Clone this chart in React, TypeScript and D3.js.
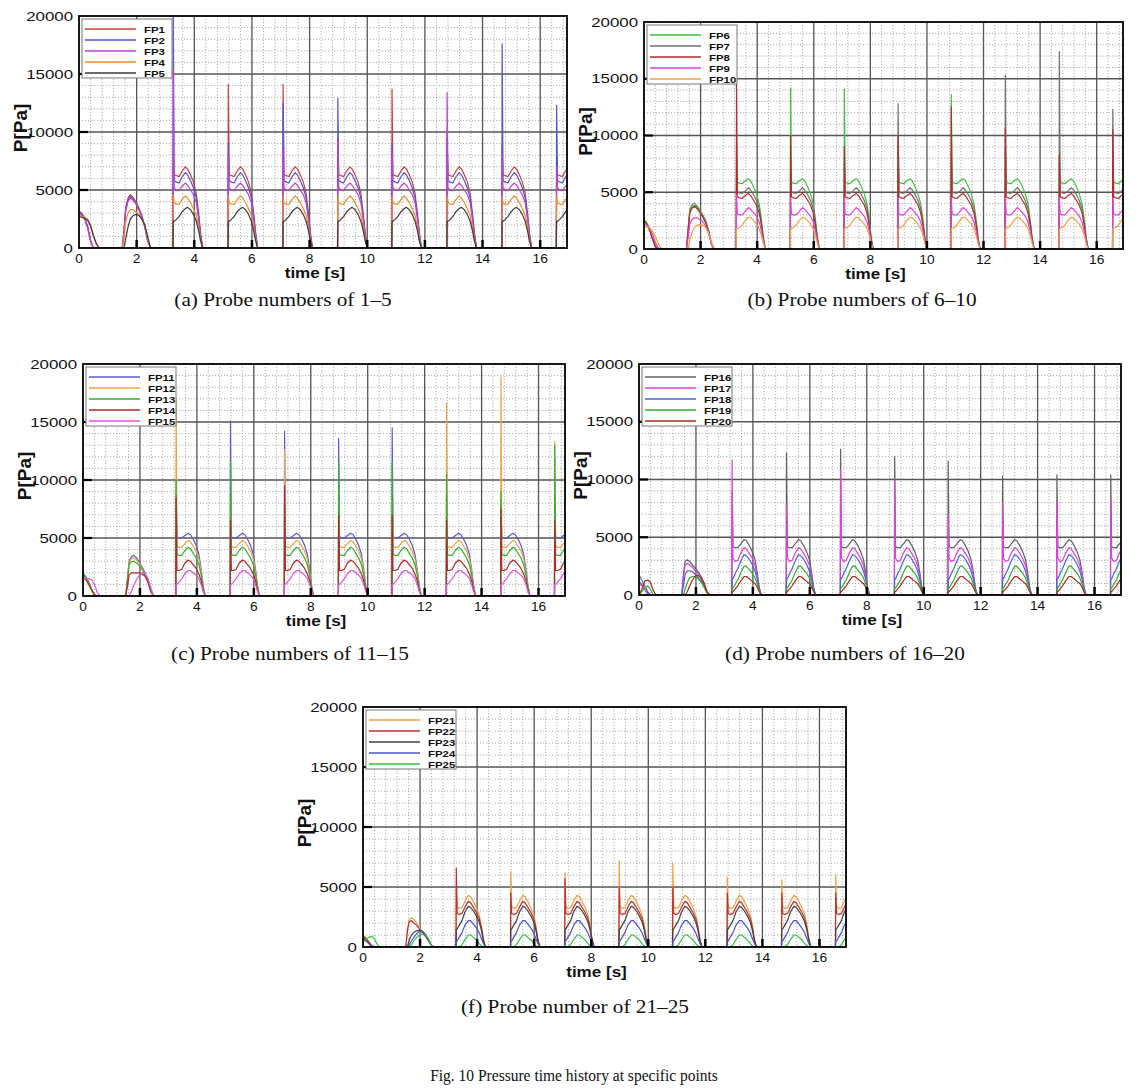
import React from "react";
import * as d3 from "d3";

// ---------- shared time bases (s) ----------
const INIT_T = [0, 0.1, 0.2, 0.3, 0.4, 0.5, 0.6, 0.7];
const FIRST_T = [1.5, 1.56, 1.62, 1.7, 1.78, 1.88, 1.98, 2.08, 2.18, 2.28, 2.38, 2.48];
const PULSE_T = [3.27, 5.18, 7.08, 8.98, 10.86, 12.77, 14.68, 16.57];
const PULSE_DT = [0.03, 0.1, 0.2, 0.3, 0.42, 0.5, 0.6, 0.7, 0.8, 0.88, 0.95, 1.02];

const X_TICKS = [0, 2, 4, 6, 8, 10, 12, 14, 16];
const Y_TICKS = [0, 5000, 10000, 15000, 20000];
const X_MAX = 16.93;
const Y_MAX = 20000;

// ---------- probe series (Pa) ----------
const FP1 = { name: "FP1", init: [3200, 3000, 2600, 1900, 700, 0, 0, 0], first: [0, 1500, 3500, 4300, 4600, 4350, 3950, 3450, 2800, 1900, 700, 0], pulse: [6300, 6250, 6150, 6600, 7000, 6800, 6300, 5700, 4700, 3000, 1300, 0], spikes: [8200, 14100, 14100, 9000, 13700, 9500, 9000, 8000] };
const FP2 = { name: "FP2", init: [3100, 2900, 2500, 1800, 600, 0, 0, 0], first: [0, 1400, 3300, 4100, 4450, 4200, 3800, 3300, 2700, 1800, 600, 0], pulse: [5800, 5700, 5600, 6100, 6500, 6300, 5800, 5200, 4300, 2700, 1100, 0], spikes: [21000, 9000, 12500, 12900, 9000, 10000, 17600, 12300] };
const FP3 = { name: "FP3", init: [3000, 2800, 2500, 1700, 600, 0, 0, 0], first: [0, 1300, 3200, 4000, 4300, 4100, 3800, 3300, 2700, 1900, 700, 0], pulse: [5200, 5000, 4950, 5300, 5600, 5400, 5000, 4600, 3900, 2500, 1000, 0], spikes: [15500, 8000, 8500, 9500, 8500, 13400, 8000, 7000] };
const FP4 = { name: "FP4", init: [2800, 2750, 2650, 2500, 2000, 1000, 300, 0], first: [0, 800, 2300, 3000, 3300, 3300, 3100, 2900, 2500, 1900, 800, 0], pulse: [3900, 3800, 3750, 4150, 4500, 4300, 3900, 3400, 2800, 1800, 700, 0], spikes: [4600, 4500, 4500, 4500, 4500, 4500, 4500, 4500] };
const FP5 = { name: "FP5", init: [2700, 2650, 2550, 2400, 1900, 1100, 400, 0], first: [0, 0, 800, 1800, 2500, 2800, 2900, 2800, 2500, 2000, 1000, 0], pulse: [2300, 2450, 2700, 3100, 3400, 3500, 3300, 2900, 2300, 1500, 600, 0], spikes: [0, 0, 0, 0, 0, 0, 0, 0] };

const FP6 = { name: "FP6", init: [2600, 2300, 1800, 1000, 300, 0, 0, 0], first: [0, 1800, 3500, 3900, 4050, 3800, 3400, 3000, 2500, 1700, 500, 0], pulse: [5900, 5800, 5750, 6000, 6200, 6000, 5500, 4900, 4000, 2600, 1000, 0], spikes: [7000, 14200, 14100, 9000, 13600, 9000, 8000, 6500] };
const FP7 = { name: "FP7", init: [2500, 2200, 1700, 900, 200, 0, 0, 0], first: [0, 1700, 3300, 3700, 3850, 3650, 3300, 2900, 2400, 1600, 500, 0], pulse: [5000, 4950, 4900, 5100, 5400, 5200, 4800, 4300, 3600, 2300, 900, 0], spikes: [9000, 7000, 7500, 12800, 8500, 15300, 17400, 12300] };
const FP8 = { name: "FP8", init: [2500, 2200, 1600, 900, 200, 0, 0, 0], first: [0, 1600, 3200, 3600, 3750, 3550, 3200, 2800, 2300, 1500, 400, 0], pulse: [4600, 4500, 4450, 4700, 4900, 4700, 4300, 3900, 3200, 2100, 800, 0], spikes: [14800, 10000, 9000, 10000, 12500, 10600, 8300, 10500] };
const FP9 = { name: "FP9", init: [2200, 2100, 1800, 1300, 600, 100, 0, 0], first: [0, 1000, 2200, 2600, 2750, 2750, 2600, 2400, 2000, 1400, 500, 0], pulse: [3100, 3000, 3000, 3300, 3650, 3500, 3200, 2900, 2400, 1600, 600, 0], spikes: [4800, 4500, 4500, 4500, 4500, 4500, 4500, 4500] };
const FP10 = { name: "FP10", init: [2000, 1950, 1850, 1600, 1100, 500, 100, 0], first: [0, 0, 800, 1500, 1900, 2100, 2150, 2100, 1900, 1400, 600, 0], pulse: [1800, 1900, 2100, 2500, 2800, 2750, 2500, 2200, 1800, 1200, 500, 0], spikes: [0, 0, 0, 0, 0, 0, 0, 0] };

const FP11 = { name: "FP11", init: [1800, 1600, 1200, 600, 100, 0, 0, 0], first: [0, 1500, 3000, 3400, 3500, 3300, 2900, 2500, 2000, 1400, 400, 0], pulse: [5100, 5000, 5000, 5200, 5400, 5300, 4900, 4400, 3600, 2300, 900, 0], spikes: [9000, 15100, 14200, 13600, 14500, 9000, 8000, 8000] };
const FP12 = { name: "FP12", init: [1700, 1500, 1100, 500, 100, 0, 0, 0], first: [0, 1400, 2900, 3200, 3300, 3100, 2800, 2400, 1900, 1300, 400, 0], pulse: [4300, 4200, 4200, 4500, 4800, 4700, 4300, 3900, 3200, 2100, 800, 0], spikes: [17000, 9500, 12600, 9000, 9000, 16700, 18900, 13300] };
const FP13 = { name: "FP13", init: [2000, 1700, 1200, 600, 100, 0, 0, 0], first: [0, 1300, 2700, 2950, 3000, 2850, 2600, 2300, 1800, 1200, 400, 0], pulse: [3600, 3500, 3500, 3900, 4200, 4100, 3700, 3300, 2700, 1800, 700, 0], spikes: [10000, 11700, 8000, 11500, 11500, 10500, 9000, 13000] };
const FP14 = { name: "FP14", init: [1600, 1400, 1000, 500, 100, 0, 0, 0], first: [0, 800, 1800, 2000, 2000, 2000, 2000, 1900, 1700, 1200, 500, 0], pulse: [2200, 2200, 2300, 2800, 3100, 3000, 2700, 2400, 1900, 1300, 500, 0], spikes: [8500, 6500, 9500, 7000, 7000, 6500, 7500, 6500] };
const FP15 = { name: "FP15", init: [1500, 1500, 1500, 1400, 1000, 300, 0, 0], first: [0, 0, 0, 400, 900, 1400, 1800, 2000, 1900, 1500, 700, 0], pulse: [1000, 1200, 1500, 1900, 2200, 2200, 2000, 1800, 1500, 1000, 400, 0], spikes: [0, 0, 0, 0, 0, 0, 0, 0] };

const FP16 = { name: "FP16", init: [1200, 900, 500, 100, 0, 0, 0, 0], first: [0, 1800, 2900, 3050, 2900, 2600, 2300, 2000, 1600, 1100, 300, 0], pulse: [4200, 4100, 4100, 4400, 4800, 4700, 4300, 3800, 3100, 2000, 700, 0], spikes: [9000, 12300, 12600, 12000, 11600, 10300, 10400, 10400] };
const FP17 = { name: "FP17", init: [1000, 800, 500, 200, 0, 0, 0, 0], first: [0, 1500, 2600, 2750, 2600, 2400, 2100, 1800, 1400, 900, 300, 0], pulse: [3200, 2900, 3000, 3600, 4100, 4000, 3600, 3200, 2600, 1700, 600, 0], spikes: [11700, 7800, 10800, 10000, 7000, 8000, 8000, 8300] };
const FP18 = { name: "FP18", init: [1700, 1300, 800, 300, 0, 0, 0, 0], first: [0, 800, 1800, 2100, 2100, 2000, 1800, 1500, 1200, 800, 300, 0], pulse: [1400, 1800, 2300, 2900, 3500, 3400, 3100, 2700, 2100, 1400, 600, 0], spikes: [0, 0, 0, 0, 0, 0, 0, 0] };
const FP19 = { name: "FP19", init: [0, 300, 600, 800, 500, 0, 0, 0], first: [0, 0, 500, 1100, 1500, 1600, 1550, 1400, 1100, 700, 200, 0], pulse: [600, 900, 1300, 1900, 2500, 2500, 2200, 1900, 1500, 1000, 400, 0], spikes: [0, 0, 0, 0, 0, 0, 0, 0] };
const FP20 = { name: "FP20", init: [0, 500, 1200, 1300, 1100, 400, 0, 0], first: [0, 0, 0, 300, 800, 1300, 1650, 1700, 1500, 1000, 300, 0], pulse: [300, 500, 800, 1200, 1600, 1600, 1400, 1200, 1000, 700, 300, 0], spikes: [0, 0, 0, 0, 0, 0, 0, 0] };

const FP21 = { name: "FP21", init: [1000, 800, 500, 200, 0, 0, 0, 0], first: [0, 1500, 2300, 2450, 2300, 2000, 1600, 1300, 1000, 700, 200, 0], pulse: [3400, 3200, 3300, 3800, 4300, 4200, 3800, 3300, 2700, 1800, 700, 0], spikes: [5000, 6300, 6200, 7200, 7000, 5800, 5600, 6000] };
const FP22 = { name: "FP22", init: [900, 700, 400, 100, 0, 0, 0, 0], first: [0, 1400, 2100, 2200, 2000, 1800, 1500, 1200, 900, 600, 200, 0], pulse: [2800, 2700, 2800, 3300, 3800, 3700, 3300, 2900, 2400, 1600, 600, 0], spikes: [6600, 4500, 5700, 5000, 5000, 4500, 4500, 4500] };
const FP23 = { name: "FP23", init: [800, 600, 300, 0, 0, 0, 0, 0], first: [0, 0, 600, 1000, 1200, 1350, 1400, 1300, 1000, 600, 200, 0], pulse: [1500, 1800, 2200, 2900, 3400, 3300, 3000, 2600, 2100, 1400, 500, 0], spikes: [0, 0, 0, 0, 0, 0, 0, 0] };
const FP24 = { name: "FP24", init: [700, 500, 300, 100, 0, 0, 0, 0], first: [0, 0, 200, 500, 800, 1100, 1300, 1300, 1100, 700, 200, 0], pulse: [500, 800, 1200, 1800, 2200, 2200, 1900, 1600, 1200, 700, 300, 0], spikes: [0, 0, 0, 0, 0, 0, 0, 0] };
const FP25 = { name: "FP25", init: [400, 600, 800, 900, 700, 200, 0, 0], first: [0, 0, 0, 200, 500, 800, 1000, 1100, 1000, 700, 200, 0], pulse: [0, 0, 200, 600, 1000, 1000, 800, 600, 300, 100, 0, 0], spikes: [0, 0, 0, 0, 0, 0, 0, 0] };

const GROUP_A = [FP1, FP2, FP3, FP4, FP5];
const GROUP_B = [FP6, FP7, FP8, FP9, FP10];
const GROUP_C = [FP11, FP12, FP13, FP14, FP15];
const GROUP_D = [FP16, FP17, FP18, FP19, FP20];
const GROUP_F = [FP21, FP22, FP23, FP24, FP25];

// ---------- styles ----------
const COLORS_A = ["#c8403c", "#5252d6", "#c040d0", "#f08a24", "#3a3a3a"];
const COLORS_B = ["#3cc03c", "#707070", "#b82a2a", "#e040e0", "#f0a040"];
const COLORS_C = ["#5a5ad8", "#f0a040", "#30b030", "#b02828", "#e050e0"];
const COLORS_D = ["#606060", "#e040e0", "#4a62e0", "#30b030", "#a82a18"];
const COLORS_F = ["#f0a040", "#c03030", "#404040", "#4a52d0", "#30c040"];

const PANELS = [
  { id: "a", group: GROUP_A, colors: COLORS_A, left: 79, right: 567, top: 16, bottom: 248, caption: "(a) Probe numbers of 1\u20135", cx: 283, cy: 305 },
  { id: "b", group: GROUP_B, colors: COLORS_B, left: 644, right: 1123, top: 22, bottom: 249, caption: "(b) Probe numbers of 6\u201310", cx: 862, cy: 305 },
  { id: "c", group: GROUP_C, colors: COLORS_C, left: 83, right: 565, top: 364, bottom: 596, caption: "(c) Probe numbers of 11\u201315", cx: 290, cy: 659 },
  { id: "d", group: GROUP_D, colors: COLORS_D, left: 639, right: 1121, top: 364, bottom: 595, caption: "(d) Probe numbers of 16\u201320", cx: 845, cy: 659 },
  { id: "f", group: GROUP_F, colors: COLORS_F, left: 363, right: 846, top: 707, bottom: 947, caption: "(f) Probe number of 21\u201325", cx: 575, cy: 1012 },
];

const SANS = "'Liberation Sans', Arial, Helvetica, sans-serif";
const SERIF = "'Liberation Serif', 'Times New Roman', serif";

type Series = { name: string; init: number[]; first: number[]; pulse: number[]; spikes: number[] };

function buildPoints(s: Series): [number, number][] {
  const pts: [number, number][] = [];
  INIT_T.forEach((t, i) => pts.push([t, s.init[i]]));
  FIRST_T.forEach((t, i) => pts.push([t, s.first[i]]));
  PULSE_T.forEach((t0, k) => {
    pts.push([t0 - 0.01, 0]);
    pts.push([t0, Math.max(s.spikes[k], s.pulse[0])]);
    PULSE_DT.forEach((dt, j) => pts.push([t0 + dt, s.pulse[j]]));
  });
  pts.push([X_MAX + 1, 0]);
  return pts;
}

function SText({ x, y, sx = 1, anchor = "start", size, weight = "normal", family = SANS, children }: any) {
  return (
    <text
      transform={`translate(${x},${y}) scale(${sx},1)`}
      textAnchor={anchor}
      fontSize={size}
      fontWeight={weight}
      fontFamily={family}
      fill="#111"
    >
      {children}
    </text>
  );
}

function Panel({ p }: any) {
  const x = d3.scaleLinear().domain([0, X_MAX]).range([p.left, p.right]);
  const y = d3.scaleLinear().domain([0, Y_MAX]).range([p.bottom, p.top]);
  const line = d3
    .line<[number, number]>()
    .x((d) => x(d[0]))
    .y((d) => y(d[1]));

  const minorX = d3.range(0, X_MAX, 0.4).filter((v) => Math.abs(v / 2 - Math.round(v / 2)) > 1e-6);
  const minorY = d3.range(1000, Y_MAX, 1000).filter((v) => v % 5000 !== 0);
  const clipId = `clip-${p.id}`;
  const midY = (p.top + p.bottom) / 2;
  const midX = (p.left + p.right) / 2;

  return (
    <g>
      <defs>
        <clipPath id={clipId}>
          <rect x={p.left} y={p.top} width={p.right - p.left} height={p.bottom - p.top} />
        </clipPath>
      </defs>
      <rect x={p.left} y={p.top} width={p.right - p.left} height={p.bottom - p.top} fill="#fff" />
      {minorX.map((v) => (
        <line key={"mx" + v} x1={x(v)} x2={x(v)} y1={p.top} y2={p.bottom} stroke="#9a9a9a" strokeWidth={0.8} strokeDasharray="1.2,1.8" />
      ))}
      {minorY.map((v) => (
        <line key={"my" + v} x1={p.left} x2={p.right} y1={y(v)} y2={y(v)} stroke="#9a9a9a" strokeWidth={0.8} strokeDasharray="1.2,1.8" />
      ))}
      {X_TICKS.filter((v) => v > 0).map((v) => (
        <line key={"Mx" + v} x1={x(v)} x2={x(v)} y1={p.top} y2={p.bottom} stroke="#555" strokeWidth={1.3} />
      ))}
      {Y_TICKS.filter((v) => v > 0 && v < Y_MAX).map((v) => (
        <line key={"My" + v} x1={p.left} x2={p.right} y1={y(v)} y2={y(v)} stroke="#555" strokeWidth={1.3} />
      ))}
      <g clipPath={`url(#${clipId})`}>
        {p.group.map((s: Series, i: number) => (
          <path key={s.name} d={line(buildPoints(s)) || ""} fill="none" stroke={p.colors[i]} strokeWidth={1.2} strokeLinejoin="round" />
        ))}
      </g>
      {/* inward major ticks */}
      {X_TICKS.filter((v) => v > 0).map((v) => (
        <line key={"tx" + v} x1={x(v)} x2={x(v)} y1={p.bottom} y2={p.bottom - 8} stroke="#000" strokeWidth={2.5} />
      ))}
      {Y_TICKS.filter((v) => v > 0 && v < Y_MAX).map((v) => (
        <line key={"ty" + v} x1={p.left} x2={p.left + 9} y1={y(v)} y2={y(v)} stroke="#000" strokeWidth={2.2} />
      ))}
      <rect x={p.left} y={p.top} width={p.right - p.left} height={p.bottom - p.top} fill="none" stroke="#000" strokeWidth={1.8} />
      {/* legend */}
      <rect x={p.left + 3} y={p.top + 3} width={90} height={59} fill="#fff" stroke="#777" strokeWidth={1} />
      {p.group.map((s: Series, i: number) => {
        const ly = p.top + 13 + 11 * i;
        return (
          <g key={"lg" + s.name}>
            <line x1={p.left + 6} x2={p.left + 57} y1={ly} y2={ly} stroke={p.colors[i]} strokeWidth={1.5} />
            <SText x={p.left + 65} y={ly + 3.5} size={9.5} sx={1.2} weight="bold">
              {s.name}
            </SText>
          </g>
        );
      })}
      {/* tick labels */}
      {X_TICKS.map((v) => (
        <SText key={"lx" + v} x={x(v)} y={p.bottom + 15} size={12.5} sx={1.1} anchor="middle">
          {v}
        </SText>
      ))}
      {Y_TICKS.map((v) => (
        <SText key={"ly" + v} x={p.left - 6} y={y(v) + 4.5} size={12.5} sx={1.35} anchor="end">
          {v}
        </SText>
      ))}
      {/* axis titles */}
      <text
        transform={`translate(${p.left - 52},${midY - 4}) rotate(-90)`}
        textAnchor="middle"
        fontSize={19}
        fontWeight="bold"
        fontFamily={SANS}
        fill="#111"
      >
        P[Pa]
      </text>
      <SText x={midX - 8} y={p.bottom + 30} size={15.5} sx={1.1} weight="bold" anchor="middle">
        time [s]
      </SText>
      <SText x={p.cx} y={p.cy + 1} size={19} sx={1.12} family={SERIF} anchor="middle">
        {p.caption}
      </SText>
    </g>
  );
}

export default function App() {
  return (
    <svg
      width={1144}
      height={1089}
      style={{ position: "absolute", left: 0, top: 0, background: "#fff" }}
    >
      <rect x={0} y={0} width={1144} height={1089} fill="#fff" />
      {PANELS.map((p) => (
        <Panel key={p.id} p={p} />
      ))}
      <SText x={574} y={1081} size={16} sx={0.97} family={SERIF} anchor="middle">
        Fig. 10 Pressure time history at specific points
      </SText>
    </svg>
  );
}
